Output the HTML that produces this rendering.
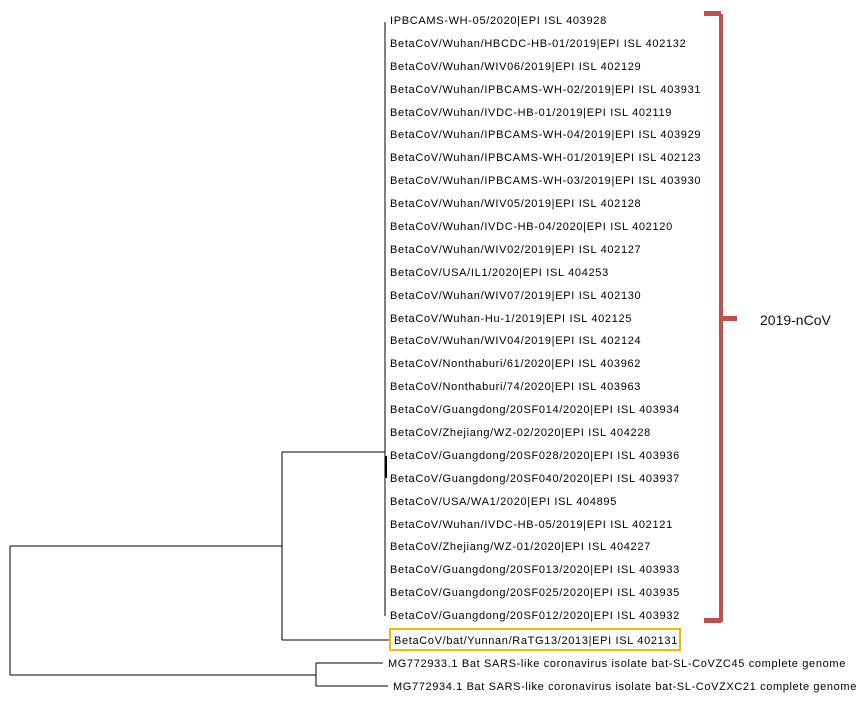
<!DOCTYPE html>
<html><head><meta charset="utf-8"><style>
html,body{margin:0;padding:0;background:#fff;}
svg{display:block;}
text{font-family:"Liberation Sans",sans-serif;font-size:11px;letter-spacing:0.68px;fill:#000;}
</style></head><body>
<svg width="867" height="703" viewBox="0 0 867 703" xmlns="http://www.w3.org/2000/svg">
<g stroke="#000" stroke-width="1" fill="none" shape-rendering="crispEdges">
<line x1="385" y1="22" x2="385" y2="616"/>
<line x1="386" y1="456" x2="386" y2="478" stroke-width="2"/>
<line x1="282" y1="452" x2="385" y2="452"/>
<line x1="282" y1="452" x2="282" y2="640"/>
<line x1="282" y1="640" x2="390" y2="640"/>
<line x1="10" y1="546" x2="282" y2="546"/>
<line x1="10" y1="546" x2="10" y2="675"/>
<line x1="10" y1="675" x2="316" y2="675"/>
<line x1="316" y1="663" x2="316" y2="686"/>
<line x1="316" y1="663" x2="383" y2="663"/>
<line x1="316" y1="686" x2="388" y2="686"/>
</g>
<rect x="390" y="629" width="290" height="21" fill="none" stroke="#f5b800" stroke-width="2"/>
<g>
<text x="390" y="24">IPBCAMS-WH-05/2020|EPI ISL 403928</text>
<text x="390" y="47">BetaCoV/Wuhan/HBCDC-HB-01/2019|EPI ISL 402132</text>
<text x="390" y="70">BetaCoV/Wuhan/WIV06/2019|EPI ISL 402129</text>
<text x="390" y="93">BetaCoV/Wuhan/IPBCAMS-WH-02/2019|EPI ISL 403931</text>
<text x="390" y="116">BetaCoV/Wuhan/IVDC-HB-01/2019|EPI ISL 402119</text>
<text x="390" y="138">BetaCoV/Wuhan/IPBCAMS-WH-04/2019|EPI ISL 403929</text>
<text x="390" y="161">BetaCoV/Wuhan/IPBCAMS-WH-01/2019|EPI ISL 402123</text>
<text x="390" y="184">BetaCoV/Wuhan/IPBCAMS-WH-03/2019|EPI ISL 403930</text>
<text x="390" y="207">BetaCoV/Wuhan/WIV05/2019|EPI ISL 402128</text>
<text x="390" y="230">BetaCoV/Wuhan/IVDC-HB-04/2020|EPI ISL 402120</text>
<text x="390" y="253">BetaCoV/Wuhan/WIV02/2019|EPI ISL 402127</text>
<text x="390" y="276">BetaCoV/USA/IL1/2020|EPI ISL 404253</text>
<text x="390" y="299">BetaCoV/Wuhan/WIV07/2019|EPI ISL 402130</text>
<text x="390" y="322">BetaCoV/Wuhan-Hu-1/2019|EPI ISL 402125</text>
<text x="390" y="344">BetaCoV/Wuhan/WIV04/2019|EPI ISL 402124</text>
<text x="390" y="367">BetaCoV/Nonthaburi/61/2020|EPI ISL 403962</text>
<text x="390" y="390">BetaCoV/Nonthaburi/74/2020|EPI ISL 403963</text>
<text x="390" y="413">BetaCoV/Guangdong/20SF014/2020|EPI ISL 403934</text>
<text x="390" y="436">BetaCoV/Zhejiang/WZ-02/2020|EPI ISL 404228</text>
<text x="390" y="459">BetaCoV/Guangdong/20SF028/2020|EPI ISL 403936</text>
<text x="390" y="482">BetaCoV/Guangdong/20SF040/2020|EPI ISL 403937</text>
<text x="390" y="505">BetaCoV/USA/WA1/2020|EPI ISL 404895</text>
<text x="390" y="528">BetaCoV/Wuhan/IVDC-HB-05/2019|EPI ISL 402121</text>
<text x="390" y="550">BetaCoV/Zhejiang/WZ-01/2020|EPI ISL 404227</text>
<text x="390" y="573">BetaCoV/Guangdong/20SF013/2020|EPI ISL 403933</text>
<text x="390" y="596">BetaCoV/Guangdong/20SF025/2020|EPI ISL 403935</text>
<text x="390" y="619">BetaCoV/Guangdong/20SF012/2020|EPI ISL 403932</text>
<text x="394" y="644" textLength="284" lengthAdjust="spacing">BetaCoV/bat/Yunnan/RaTG13/2013|EPI ISL 402131</text>
<text x="388" y="667" textLength="458" lengthAdjust="spacing">MG772933.1 Bat SARS-like coronavirus isolate bat-SL-CoVZC45 complete genome</text>
<text x="393" y="690" textLength="464" lengthAdjust="spacing">MG772934.1 Bat SARS-like coronavirus isolate bat-SL-CoVZXC21 complete genome</text>
</g>
<g fill="#c0504d">
<rect x="719" y="14" width="4" height="608"/>
<rect x="704" y="11" width="17" height="5"/>
<rect x="704" y="618" width="17" height="5"/>
<rect x="721" y="316" width="16" height="5"/>
</g>
<text x="760" y="325" style="font-size:14px;letter-spacing:0;fill:#111">2019-nCoV</text>
</svg>
</body></html>
